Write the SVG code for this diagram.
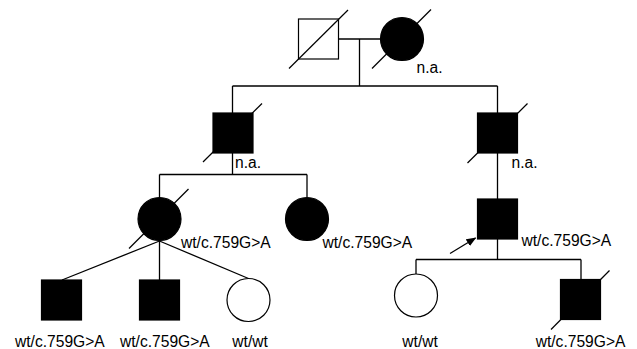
<svg xmlns="http://www.w3.org/2000/svg" width="637" height="349" viewBox="0 0 637 349">
<style>
.ln{stroke:#000;stroke-width:1.3;fill:none}
.aff{fill:#000;stroke:#000;stroke-width:1.2}
.un{fill:#fff;stroke:#000;stroke-width:1.2}
.dec{stroke:#000;stroke-width:1.2}
text{font-family:"Liberation Sans",Arial,sans-serif;font-size:15.6px;fill:#000}
</style>
<defs>
<marker id="ah" markerWidth="10" markerHeight="8" refX="9" refY="4" orient="auto" markerUnits="userSpaceOnUse">
<path d="M0,0 L10,4 L0,8 Z" fill="#000"/>
</marker>
</defs>
<rect width="637" height="349" fill="#fff"/>
<g id="connectors">
<line class="ln" x1="338.5" y1="39" x2="380" y2="39"/>
<line class="ln" x1="359.5" y1="39" x2="359.5" y2="86"/>
<line class="ln" x1="232.5" y1="86" x2="497.5" y2="86"/>
<line class="ln" x1="232.5" y1="86" x2="232.5" y2="113"/>
<line class="ln" x1="497.5" y1="86" x2="497.5" y2="113"/>
<line class="ln" x1="232.5" y1="153" x2="232.5" y2="174.5"/>
<line class="ln" x1="159.5" y1="174.5" x2="307" y2="174.5"/>
<line class="ln" x1="159.5" y1="174.5" x2="159.5" y2="197"/>
<line class="ln" x1="307" y1="174.5" x2="307" y2="197"/>
<line class="ln" x1="497.5" y1="153" x2="497.5" y2="199"/>
<line class="ln" x1="497.5" y1="239" x2="497.5" y2="259.5"/>
<line class="ln" x1="416" y1="259.5" x2="581" y2="259.5"/>
<line class="ln" x1="416" y1="259.5" x2="416" y2="274"/>
<line class="ln" x1="581" y1="259.5" x2="581" y2="279.5"/>
<line class="ln" x1="159.5" y1="241" x2="62" y2="280"/>
<line class="ln" x1="159.5" y1="241" x2="159.5" y2="280"/>
<line class="ln" x1="159.5" y1="241" x2="248.5" y2="278.5"/>
<line class="ln" x1="450" y1="253.5" x2="475.5" y2="238" marker-end="url(#ah)"/>
</g>
<g id="gen1-father">
<rect class="un" x="298.5" y="19" width="40" height="40"/>
<line class="dec" x1="289" y1="68.5" x2="348" y2="10"/>
</g>
<g id="gen1-mother">
<circle class="aff" cx="402" cy="39" r="21.5"/>
<line class="dec" x1="372" y1="68.5" x2="431" y2="9.5"/>
<text x="416.5" y="73.3">n.a.</text>
</g>
<g id="gen2-left">
<rect class="aff" x="213" y="113" width="40" height="40"/>
<line class="dec" x1="203" y1="162" x2="262" y2="103.5"/>
<text x="235" y="168">n.a.</text>
</g>
<g id="gen2-right">
<rect class="aff" x="477.5" y="113" width="40" height="40"/>
<line class="dec" x1="467.5" y1="163" x2="527.5" y2="103.5"/>
<text x="511.5" y="167.5">n.a.</text>
</g>
<g id="gen3-circle1">
<circle class="aff" cx="159.5" cy="219" r="21.5"/>
<line class="dec" x1="129" y1="248.5" x2="188.5" y2="189"/>
<text x="181" y="247.7">wt/c.759G&gt;A</text>
</g>
<g id="gen3-circle2">
<circle class="aff" cx="307" cy="219" r="21.5"/>
<text x="322.5" y="247.7">wt/c.759G&gt;A</text>
</g>
<g id="gen3-proband">
<rect class="aff" x="477.5" y="199" width="40" height="40"/>
<text x="521.5" y="245.5">wt/c.759G&gt;A</text>
</g>
<g id="gen4-son1">
<rect class="aff" x="41.5" y="280" width="40" height="40"/>
<text x="15" y="347.3">wt/c.759G&gt;A</text>
</g>
<g id="gen4-son2">
<rect class="aff" x="139.5" y="280" width="40" height="40"/>
<text x="120" y="347.3">wt/c.759G&gt;A</text>
</g>
<g id="gen4-daughter1">
<circle class="un" cx="248.5" cy="300" r="21.5"/>
<text x="232.3" y="347.3">wt/wt</text>
</g>
<g id="gen4-daughter2">
<circle class="un" cx="416" cy="295.5" r="21.5"/>
<text x="402.3" y="347.3">wt/wt</text>
</g>
<g id="gen4-son3">
<rect class="aff" x="560.5" y="279.5" width="40" height="40"/>
<line class="dec" x1="551" y1="329.5" x2="609.5" y2="270.5"/>
<text x="535.7" y="347.3">wt/c.759G&gt;A</text>
</g>
</svg>
